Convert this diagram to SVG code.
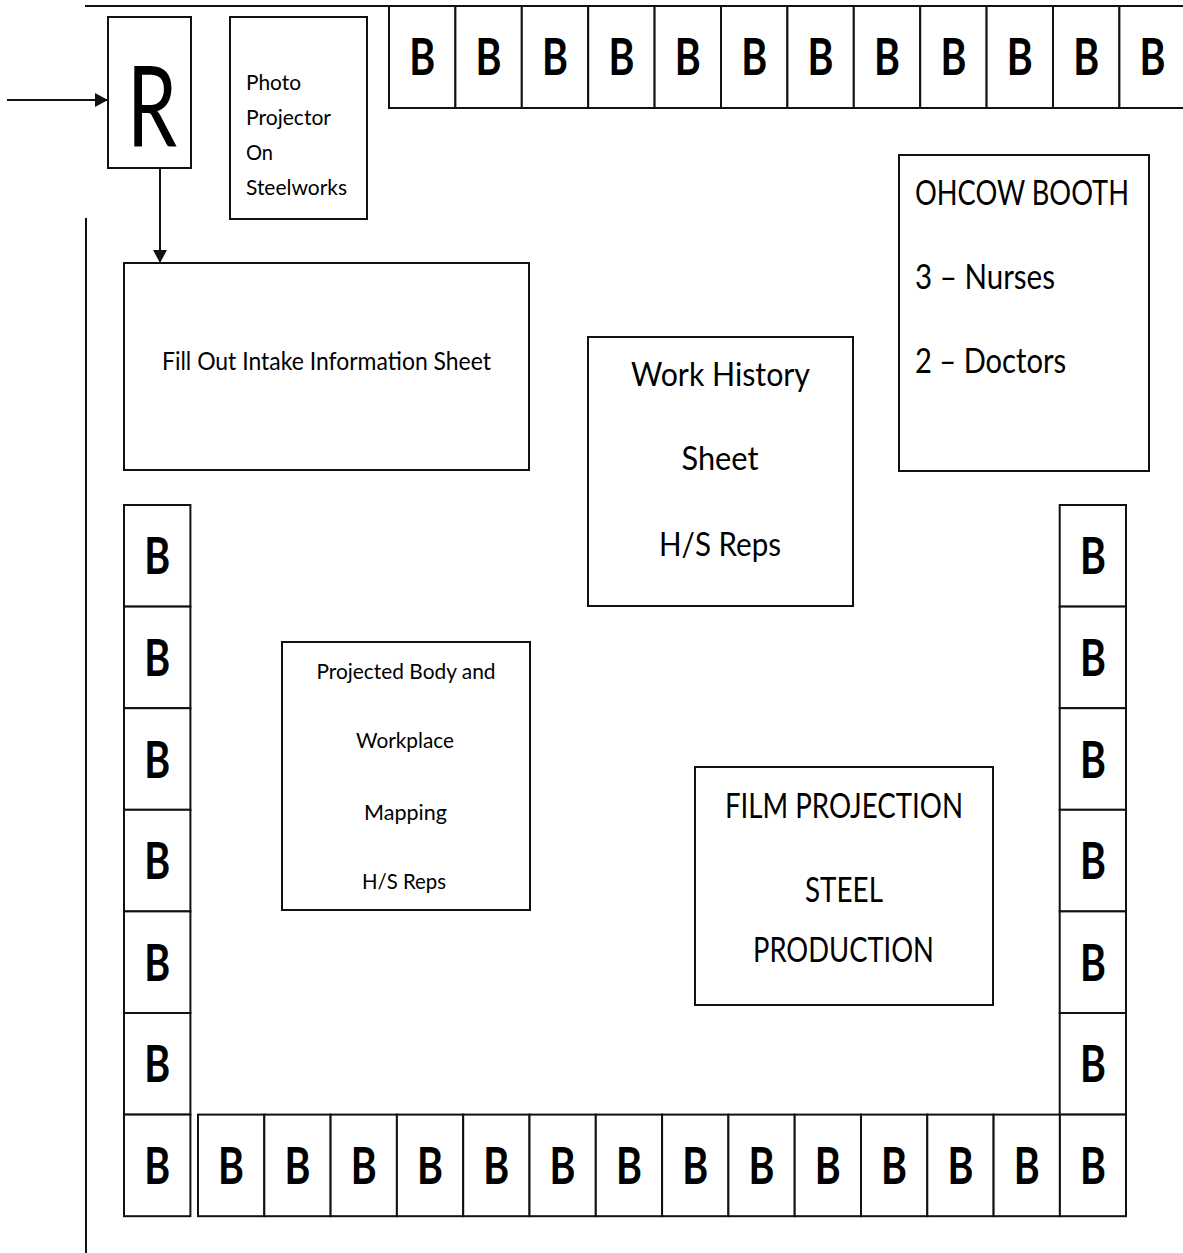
<svg xmlns="http://www.w3.org/2000/svg" width="1183" height="1253" viewBox="0 0 1183 1253">
<style>
.box{fill:#fff;stroke:#111;stroke-width:2}
.ln{stroke:#111;stroke-width:2;fill:none}
.t{font-family:Lato,"Open Sans","Liberation Sans",sans-serif;fill:#000}
.b{font-family:Lato,"Open Sans","Liberation Sans",sans-serif;font-weight:bold;font-size:52px;text-anchor:middle;fill:#000}
.m{text-anchor:middle}
</style>
<defs>
<marker id="ah" markerWidth="13" markerHeight="14" refX="13" refY="7" orient="auto" markerUnits="userSpaceOnUse">
<path d="M0,0 L13,7 L0,14 Z" fill="#111"/>
</marker>
</defs>
<rect width="1183" height="1253" fill="#fff"/>
<g id="walls">
<line class="ln" x1="85" y1="6" x2="1183" y2="6"/>
<line class="ln" x1="86" y1="218" x2="86" y2="1253"/>
</g>
<g id="connectors">
<line class="ln" x1="7" y1="100" x2="108" y2="100" marker-end="url(#ah)"/>
<line class="ln" x1="160" y1="168" x2="160" y2="263" marker-end="url(#ah)"/>
</g>
<g id="node-r">
<rect class="box" x="108" y="17" width="83" height="151"/>
<text class="t m" x="152" y="147" font-size="112" textLength="50" lengthAdjust="spacingAndGlyphs">R</text>
</g>
<g id="node-photo">
<rect class="box" x="230" y="17" width="137" height="202"/>
<text class="t" font-size="22" x="246" y="90" textLength="55" lengthAdjust="spacingAndGlyphs">Photo</text>
<text class="t" font-size="22" x="246" y="125" textLength="85" lengthAdjust="spacingAndGlyphs">Projector</text>
<text class="t" font-size="22" x="246" y="160" textLength="27" lengthAdjust="spacingAndGlyphs">On</text>
<text class="t" font-size="22" x="246" y="195" textLength="101" lengthAdjust="spacingAndGlyphs">Steelworks</text>
</g>
<g id="node-intake">
<rect class="box" x="124" y="263" width="405" height="207"/>
<text class="t m" font-size="25" x="326.5" y="370" textLength="329" lengthAdjust="spacingAndGlyphs">Fill Out Intake Information Sheet</text>
</g>
<g id="node-work-history">
<rect class="box" x="588" y="337" width="265" height="269"/>
<text class="t m" font-size="33" x="720.5" y="386" textLength="179" lengthAdjust="spacingAndGlyphs">Work History</text>
<text class="t m" font-size="33" x="720" y="470" textLength="77" lengthAdjust="spacingAndGlyphs">Sheet</text>
<text class="t m" font-size="33" x="720" y="556" textLength="122" lengthAdjust="spacingAndGlyphs">H/S Reps</text>
</g>
<g id="node-ohcow">
<rect class="box" x="899" y="155" width="250" height="316"/>
<text class="t" font-size="35" x="915" y="205" textLength="214" lengthAdjust="spacingAndGlyphs">OHCOW BOOTH</text>
<text class="t" font-size="35" x="915" y="289" textLength="140" lengthAdjust="spacingAndGlyphs">3 – Nurses</text>
<text class="t" font-size="35" x="915" y="373" textLength="151" lengthAdjust="spacingAndGlyphs">2 – Doctors</text>
</g>
<g id="node-mapping">
<rect class="box" x="282" y="642" width="248" height="268"/>
<text class="t m" font-size="22" x="406" y="679" textLength="179" lengthAdjust="spacingAndGlyphs">Projected Body and</text>
<text class="t m" font-size="22" x="405" y="748" textLength="98" lengthAdjust="spacingAndGlyphs">Workplace</text>
<text class="t m" font-size="22" x="405.5" y="820" textLength="83" lengthAdjust="spacingAndGlyphs">Mapping</text>
<text class="t m" font-size="22" x="404" y="889" textLength="84" lengthAdjust="spacingAndGlyphs">H/S Reps</text>
</g>
<g id="node-film">
<rect class="box" x="695" y="767" width="298" height="238"/>
<text class="t m" font-size="35" x="844" y="818" textLength="238" lengthAdjust="spacingAndGlyphs">FILM PROJECTION</text>
<text class="t m" font-size="35" x="844" y="902" textLength="78" lengthAdjust="spacingAndGlyphs">STEEL</text>
<text class="t m" font-size="35" x="843.5" y="962" textLength="181" lengthAdjust="spacingAndGlyphs">PRODUCTION</text>
</g>
<g id="booths-top">
<rect class="box" x="389" y="6" width="66.4" height="102"/><text class="b" x="422.2" y="75" textLength="26" lengthAdjust="spacingAndGlyphs">B</text>
<rect class="box" x="455.4" y="6" width="66.4" height="102"/><text class="b" x="488.6" y="75" textLength="26" lengthAdjust="spacingAndGlyphs">B</text>
<rect class="box" x="521.8" y="6" width="66.4" height="102"/><text class="b" x="555" y="75" textLength="26" lengthAdjust="spacingAndGlyphs">B</text>
<rect class="box" x="588.2" y="6" width="66.4" height="102"/><text class="b" x="621.4" y="75" textLength="26" lengthAdjust="spacingAndGlyphs">B</text>
<rect class="box" x="654.6" y="6" width="66.4" height="102"/><text class="b" x="687.8" y="75" textLength="26" lengthAdjust="spacingAndGlyphs">B</text>
<rect class="box" x="721" y="6" width="66.4" height="102"/><text class="b" x="754.2" y="75" textLength="26" lengthAdjust="spacingAndGlyphs">B</text>
<rect class="box" x="787.4" y="6" width="66.4" height="102"/><text class="b" x="820.6" y="75" textLength="26" lengthAdjust="spacingAndGlyphs">B</text>
<rect class="box" x="853.8" y="6" width="66.4" height="102"/><text class="b" x="887" y="75" textLength="26" lengthAdjust="spacingAndGlyphs">B</text>
<rect class="box" x="920.2" y="6" width="66.4" height="102"/><text class="b" x="953.4" y="75" textLength="26" lengthAdjust="spacingAndGlyphs">B</text>
<rect class="box" x="986.6" y="6" width="66.4" height="102"/><text class="b" x="1019.8" y="75" textLength="26" lengthAdjust="spacingAndGlyphs">B</text>
<rect class="box" x="1053" y="6" width="66.4" height="102"/><text class="b" x="1086.2" y="75" textLength="26" lengthAdjust="spacingAndGlyphs">B</text>
<rect class="box" x="1119.4" y="6" width="66.4" height="102"/><text class="b" x="1152.6" y="75" textLength="26" lengthAdjust="spacingAndGlyphs">B</text>
</g>
<g id="booths-left">
<rect class="box" x="124" y="505" width="66.4" height="101.6"/><text class="b" x="157.2" y="574.3" textLength="26" lengthAdjust="spacingAndGlyphs">B</text>
<rect class="box" x="124" y="606.6" width="66.4" height="101.6"/><text class="b" x="157.2" y="675.9" textLength="26" lengthAdjust="spacingAndGlyphs">B</text>
<rect class="box" x="124" y="708.2" width="66.4" height="101.6"/><text class="b" x="157.2" y="777.5" textLength="26" lengthAdjust="spacingAndGlyphs">B</text>
<rect class="box" x="124" y="809.8" width="66.4" height="101.6"/><text class="b" x="157.2" y="879.1" textLength="26" lengthAdjust="spacingAndGlyphs">B</text>
<rect class="box" x="124" y="911.4" width="66.4" height="101.6"/><text class="b" x="157.2" y="980.7" textLength="26" lengthAdjust="spacingAndGlyphs">B</text>
<rect class="box" x="124" y="1013" width="66.4" height="101.6"/><text class="b" x="157.2" y="1082.3" textLength="26" lengthAdjust="spacingAndGlyphs">B</text>
<rect class="box" x="124" y="1114.6" width="66.4" height="101.6"/><text class="b" x="157.2" y="1183.9" textLength="26" lengthAdjust="spacingAndGlyphs">B</text>
</g>
<g id="booths-right">
<rect class="box" x="1059.7" y="505" width="66.3" height="101.6"/><text class="b" x="1092.9" y="574.3" textLength="26" lengthAdjust="spacingAndGlyphs">B</text>
<rect class="box" x="1059.7" y="606.6" width="66.3" height="101.6"/><text class="b" x="1092.9" y="675.9" textLength="26" lengthAdjust="spacingAndGlyphs">B</text>
<rect class="box" x="1059.7" y="708.2" width="66.3" height="101.6"/><text class="b" x="1092.9" y="777.5" textLength="26" lengthAdjust="spacingAndGlyphs">B</text>
<rect class="box" x="1059.7" y="809.8" width="66.3" height="101.6"/><text class="b" x="1092.9" y="879.1" textLength="26" lengthAdjust="spacingAndGlyphs">B</text>
<rect class="box" x="1059.7" y="911.4" width="66.3" height="101.6"/><text class="b" x="1092.9" y="980.7" textLength="26" lengthAdjust="spacingAndGlyphs">B</text>
<rect class="box" x="1059.7" y="1013" width="66.3" height="101.6"/><text class="b" x="1092.9" y="1082.3" textLength="26" lengthAdjust="spacingAndGlyphs">B</text>
</g>
<g id="booths-bottom">
<rect class="box" x="198" y="1114.6" width="66.3" height="101.6"/><text class="b" x="231.1" y="1183.9" textLength="26" lengthAdjust="spacingAndGlyphs">B</text>
<rect class="box" x="264.3" y="1114.6" width="66.3" height="101.6"/><text class="b" x="297.4" y="1183.9" textLength="26" lengthAdjust="spacingAndGlyphs">B</text>
<rect class="box" x="330.6" y="1114.6" width="66.3" height="101.6"/><text class="b" x="363.7" y="1183.9" textLength="26" lengthAdjust="spacingAndGlyphs">B</text>
<rect class="box" x="396.9" y="1114.6" width="66.3" height="101.6"/><text class="b" x="430" y="1183.9" textLength="26" lengthAdjust="spacingAndGlyphs">B</text>
<rect class="box" x="463.2" y="1114.6" width="66.3" height="101.6"/><text class="b" x="496.3" y="1183.9" textLength="26" lengthAdjust="spacingAndGlyphs">B</text>
<rect class="box" x="529.5" y="1114.6" width="66.3" height="101.6"/><text class="b" x="562.6" y="1183.9" textLength="26" lengthAdjust="spacingAndGlyphs">B</text>
<rect class="box" x="595.8" y="1114.6" width="66.3" height="101.6"/><text class="b" x="628.9" y="1183.9" textLength="26" lengthAdjust="spacingAndGlyphs">B</text>
<rect class="box" x="662.1" y="1114.6" width="66.3" height="101.6"/><text class="b" x="695.2" y="1183.9" textLength="26" lengthAdjust="spacingAndGlyphs">B</text>
<rect class="box" x="728.4" y="1114.6" width="66.3" height="101.6"/><text class="b" x="761.5" y="1183.9" textLength="26" lengthAdjust="spacingAndGlyphs">B</text>
<rect class="box" x="794.7" y="1114.6" width="66.3" height="101.6"/><text class="b" x="827.8" y="1183.9" textLength="26" lengthAdjust="spacingAndGlyphs">B</text>
<rect class="box" x="861" y="1114.6" width="66.3" height="101.6"/><text class="b" x="894.1" y="1183.9" textLength="26" lengthAdjust="spacingAndGlyphs">B</text>
<rect class="box" x="927.3" y="1114.6" width="66.3" height="101.6"/><text class="b" x="960.4" y="1183.9" textLength="26" lengthAdjust="spacingAndGlyphs">B</text>
<rect class="box" x="993.6" y="1114.6" width="66.3" height="101.6"/><text class="b" x="1026.7" y="1183.9" textLength="26" lengthAdjust="spacingAndGlyphs">B</text>
<rect class="box" x="1059.9" y="1114.6" width="66.1" height="101.6"/><text class="b" x="1093" y="1183.9" textLength="26" lengthAdjust="spacingAndGlyphs">B</text>
</g>
</svg>
